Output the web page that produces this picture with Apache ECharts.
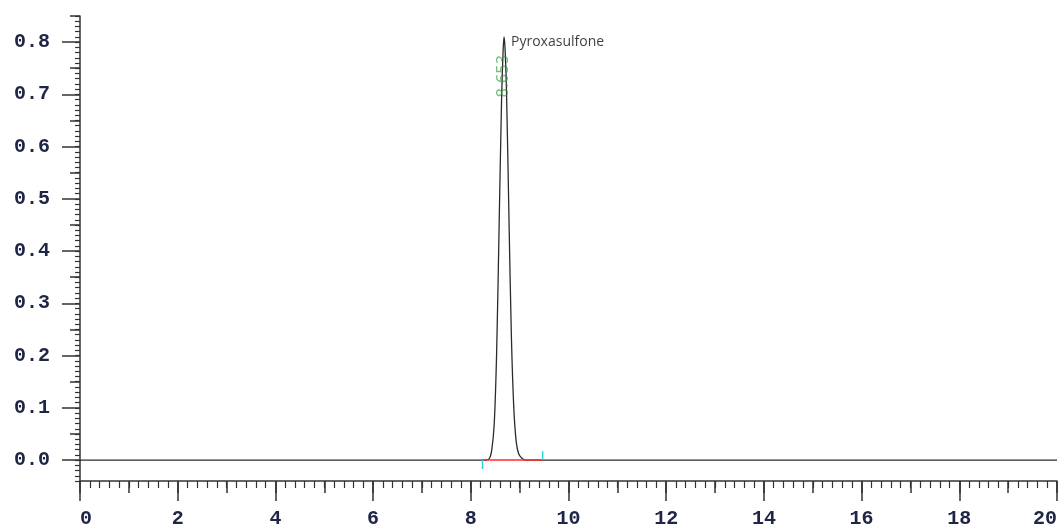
<!DOCTYPE html>
<html>
<head>
<meta charset="utf-8">
<title>Pyroxasulfone chromatogram</title>
<script src="https://cdn.jsdelivr.net/npm/echarts@6/dist/echarts.min.js"></script>
<style>
  html, body { margin: 0; padding: 0; background: #fff; }
  #mychart { width: 1061px; height: 529px; }
</style>
</head>
<body>
<div id="mychart"></div>
<script>
// retention time (min) and detector response
var timeMin = [0, 8.30, 8.38, 8.43, 8.48, 8.53, 8.58, 8.63, 8.66, 8.68, 8.70, 8.73, 8.78, 8.83, 8.88, 8.93, 8.98, 9.05, 9.12, 20];
var signal  = [0, 0,    0.003, 0.02, 0.07, 0.21, 0.45, 0.69, 0.78, 0.81, 0.79, 0.71, 0.47, 0.24, 0.10, 0.035, 0.012, 0.003, 0, 0];

// integration baseline (start / end of peak)
var baseStart = 8.24;
var baseEnd = 9.47;

// peak annotation
var peakName = "Pyroxasulfone";
var peakRt = "8.653";
var peakTime = 8.68;
var peakHeight = 0.80;

// y axis ticks
var yTickLabels = [0, 0.1, 0.2, 0.3, 0.4, 0.5, 0.6, 0.7, 0.8];
var yMidTicks = [0.05, 0.15, 0.25, 0.35, 0.45, 0.55, 0.65, 0.75, 0.85];

var axisColor = "#333";
var labelColor = "#1f2545";
var labelFont = "Liberation Mono";

var trace = timeMin.map(function (t, i) { return [t, signal[i]]; });

var myChart = echarts.init(document.getElementById("mychart"));

var yBase = { type: "value", position: "left", min: -0.04, max: 0.85, splitLine: { show: false } };

var option = {
  animation: false,
  grid: { left: 80, right: 4, top: 16, bottom: 46, containLabel: false },
  xAxis: [
    {
      type: "value",
      min: 0,
      max: 20,
      interval: 2,
      axisLine: { onZero: false, lineStyle: { color: axisColor, width: 1.5 } },
      axisTick: { length: 20, lineStyle: { color: axisColor, width: 1.5 } },
      minorTick: { show: true, splitNumber: 10, length: 7, lineStyle: { color: axisColor, width: 1.2 } },
      axisLabel: {
        margin: 28,
        color: labelColor,
        fontFamily: labelFont,
        fontWeight: "bold",
        fontSize: 20,
        alignMinLabel: "left",
        alignMaxLabel: "right"
      },
      splitLine: { show: false },
      minorSplitLine: { show: false }
    },
    {
      type: "value",
      min: 0,
      max: 20,
      interval: 1,
      position: "bottom",
      axisLine: { show: false, onZero: false },
      axisTick: { length: 12, lineStyle: { color: axisColor, width: 1.5 } },
      axisLabel: { show: false },
      splitLine: { show: false }
    }
  ],
  yAxis: [
    Object.assign({}, yBase, {
      axisLine: { show: true, lineStyle: { color: axisColor, width: 1.5 } },
      axisTick: { customValues: yTickLabels, length: 18, lineStyle: { color: axisColor, width: 1.5 } },
      axisLabel: {
        customValues: yTickLabels,
        formatter: function (v) { return v.toFixed(1); },
        margin: 30,
        color: labelColor,
        fontFamily: labelFont,
        fontWeight: "bold",
        fontSize: 20
      }
    }),
    Object.assign({}, yBase, {
      interval: 0.01,
      axisLine: { show: false },
      axisTick: { length: 5, lineStyle: { color: axisColor, width: 1.2 } },
      axisLabel: { show: false }
    }),
    Object.assign({}, yBase, {
      axisLine: { show: false },
      axisTick: { customValues: yMidTicks, length: 10, lineStyle: { color: axisColor, width: 1.5 } },
      axisLabel: { show: false }
    })
  ],
  series: [
    {
      type: "line",
      data: trace,
      symbol: "none",
      smooth: 0.3,
      lineStyle: { color: "#2b2b2b", width: 1.3 },
      z: 2
    },
    {
      // integration baseline
      type: "line",
      data: [[baseStart, 0], [baseEnd, 0]],
      symbol: "none",
      lineStyle: { color: "#ff2a2a", width: 1.5 },
      z: 3
    },
    {
      type: "line",
      data: [[baseStart, -0.017], [baseStart, 0]],
      symbol: "none",
      lineStyle: { color: "#2fd3d3", width: 1.5 },
      z: 4
    },
    {
      type: "line",
      data: [[baseEnd, 0], [baseEnd, 0.017]],
      symbol: "none",
      lineStyle: { color: "#2fd3d3", width: 1.5 },
      z: 4
    },
    {
      // peak name
      type: "scatter",
      data: [[peakTime, peakHeight]],
      symbolSize: 0,
      label: {
        show: true,
        position: "right",
        distance: 7,
        formatter: peakName,
        color: "#0d0d0d",
        fontFamily: "Open Sans",
        fontSize: 14
      },
      z: 5
    },
    {
      // retention time, written upward along the peak
      type: "scatter",
      data: [[peakTime, 0.735]],
      symbolSize: 0,
      label: {
        show: true,
        position: "inside",
        rotate: 90,
        formatter: peakRt,
        color: "rgba(50,150,60,0.8)",
        fontFamily: "DejaVu Sans",
        fontSize: 15
      },
      z: 5
    }
  ]
};

myChart.setOption(option);
//随着屏幕大小调节图表
window.addEventListener("resize", function () {
  myChart.resize();
});
</script>
</body>
</html>
